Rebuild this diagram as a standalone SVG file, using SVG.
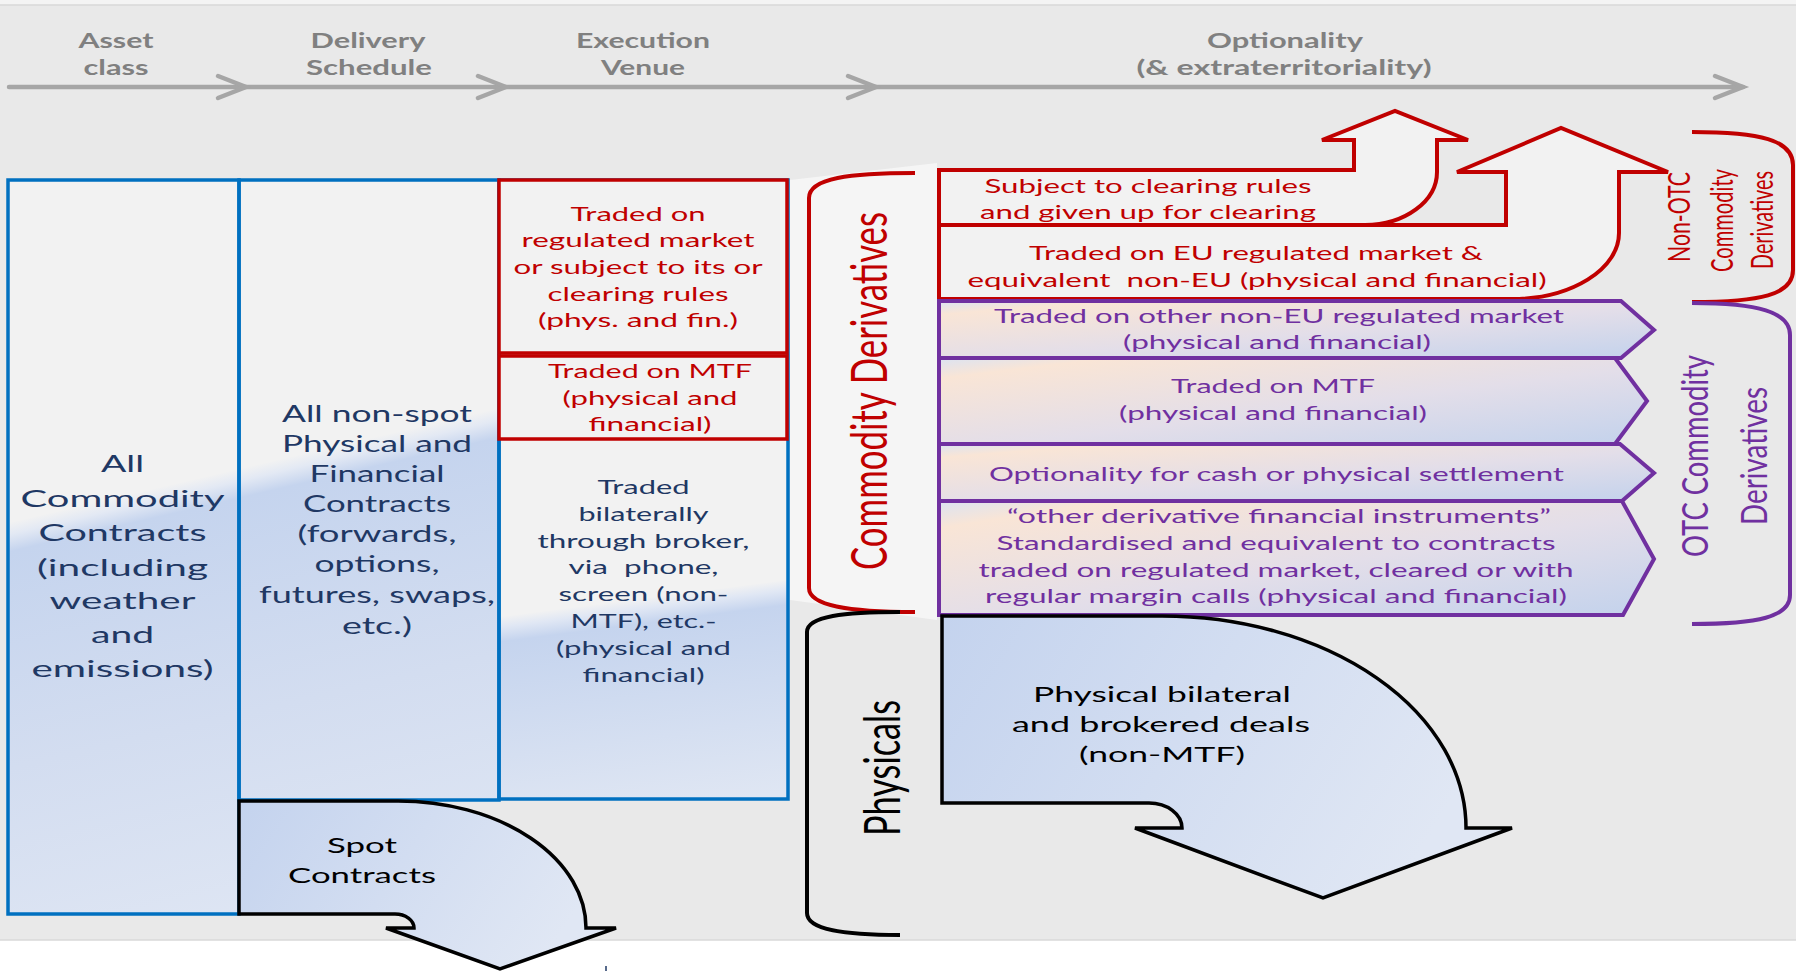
<svg xmlns="http://www.w3.org/2000/svg" width="1796" height="971" viewBox="0 0 1796 971">
<defs>
<style>
text{font-family:Lato,"Liberation Sans",sans-serif}
.hdr{font-weight:bold;font-size:20px;fill:#808080;text-anchor:middle}
.vd{font-family:"DejaVu Sans",Verdana,sans-serif;text-anchor:middle}
.cal{text-anchor:middle}
.navy{fill:#1f3864}
.red{fill:#c00000}
.pur{fill:#7030a0}
.blk{fill:#000}
.box{fill:#f2f2f2}
.bb{fill:none;stroke:#0070c0;stroke-width:3.5}
.rb{fill:#f2f2f2;stroke:#c00000;stroke-width:3.5}
.ra{fill:#f2f2f2;stroke:#c00000;stroke-width:4;stroke-linejoin:miter}
.pr{fill:url(#gRow);stroke:#7030a0;stroke-width:4}
.ka{fill:url(#gArr);stroke:#000;stroke-width:3.5}
.axis{stroke:#a6a6a6;stroke-width:4.5;fill:none;stroke-linecap:round}
.brk{fill:none;stroke-width:4}
</style>
<linearGradient id="gBlue1" gradientUnits="userSpaceOnUse" x1="250" y1="466" x2="359" y2="933">
<stop offset="0" stop-color="#f2f2f2"/>
<stop offset="0.025" stop-color="#e3e9f4"/>
<stop offset="0.06" stop-color="#c5d4ee"/>
<stop offset="0.5" stop-color="#d3ddf0"/>
<stop offset="1" stop-color="#e0e7f4"/>
</linearGradient>
<linearGradient id="gBlue3" gradientUnits="userSpaceOnUse" x1="643" y1="598" x2="670" y2="807">
<stop offset="0" stop-color="#f2f2f2"/>
<stop offset="0.05" stop-color="#e0e7f4"/>
<stop offset="0.12" stop-color="#c5d4ee"/>
<stop offset="1" stop-color="#dfe6f3"/>
</linearGradient>
<linearGradient id="gArr" x1="0" y1="0" x2="1" y2="0.3">
<stop offset="0" stop-color="#c4d3ee"/>
<stop offset="1" stop-color="#e0e7f4"/>
</linearGradient>
<linearGradient id="gRow" x1="0" y1="0" x2="1" y2="1">
<stop offset="0" stop-color="#dbe3f2"/>
<stop offset="0.12" stop-color="#f9e5d6"/>
<stop offset="0.55" stop-color="#e3dee9"/>
<stop offset="1" stop-color="#c3d2ec"/>
</linearGradient>
</defs>

<g id="background">
<rect x="0" y="0" width="1796" height="971" fill="#ffffff"/>
<rect x="0" y="0" width="1796" height="5" fill="#f4f4f4"/>
<rect x="0" y="5" width="1796" height="935" fill="#e9e9e9"/>
<line x1="0" y1="5" x2="1796" y2="5" stroke="#d8d8d8" stroke-width="1.5"/>
<line x1="0" y1="940" x2="1796" y2="940" stroke="#d8d8d8" stroke-width="1.5"/>
<polygon points="790,180 937,163 937,620 790,600" fill="#f5f5f5"/>
<line x1="606" y1="966" x2="606" y2="971" stroke="#1f3864" stroke-width="1.5"/>
</g>

<g id="header">
<line class="axis" x1="9" y1="87" x2="1743" y2="87"/>
<polyline class="axis" points="218,76 246,87 218,98"/>
<polyline class="axis" points="478,76 506,87 478,98"/>
<polyline class="axis" points="848,76 876,87 848,98"/>
<polyline class="axis" points="1715,76 1743,87 1715,98"/>
<text class="hdr" x="116" y="48" textLength="75" lengthAdjust="spacingAndGlyphs">Asset</text>
<text class="hdr" x="116" y="75" textLength="65" lengthAdjust="spacingAndGlyphs">class</text>
<text class="hdr" x="368" y="48" textLength="115" lengthAdjust="spacingAndGlyphs">Delivery</text>
<text class="hdr" x="369" y="75" textLength="126" lengthAdjust="spacingAndGlyphs">Schedule</text>
<text class="hdr" x="643" y="48" textLength="134" lengthAdjust="spacingAndGlyphs">Execution</text>
<text class="hdr" x="643" y="75" textLength="84" lengthAdjust="spacingAndGlyphs">Venue</text>
<text class="hdr" x="1285" y="48" textLength="156" lengthAdjust="spacingAndGlyphs">Optionality</text>
<text class="hdr" x="1284" y="75" textLength="295" lengthAdjust="spacingAndGlyphs">(&amp; extraterritoriality)</text>
</g>

<g id="shading">
<rect class="box" x="8" y="180" width="491" height="620"/>
<rect class="box" x="8" y="800" width="231" height="114"/>
<rect class="box" x="499" y="440" width="289" height="359"/>
<polygon points="8,523 499,408 499,800 239,800 239,914 8,914" fill="url(#gBlue1)"/>
<polygon points="499,617 788,580 788,799 499,799" fill="url(#gBlue3)"/>
</g>

<g id="all-commodity">
<rect class="bb" x="8" y="180" width="231" height="734"/>
<g class="vd navy" font-size="24">
<text x="122.5" y="472" textLength="43" lengthAdjust="spacingAndGlyphs">All</text>
<text x="122.5" y="506.5" textLength="204" lengthAdjust="spacingAndGlyphs">Commodity</text>
<text x="122.5" y="541" textLength="168" lengthAdjust="spacingAndGlyphs">Contracts</text>
<text x="122.5" y="576" textLength="171" lengthAdjust="spacingAndGlyphs">(including</text>
<text x="122.5" y="609" textLength="146" lengthAdjust="spacingAndGlyphs">weather</text>
<text x="122.5" y="643" textLength="63" lengthAdjust="spacingAndGlyphs">and</text>
<text x="122.5" y="677" textLength="182" lengthAdjust="spacingAndGlyphs">emissions)</text>
</g>
</g>

<g id="non-spot">
<rect class="bb" x="239" y="180" width="260" height="620"/>
<g class="vd navy" font-size="23">
<text x="377" y="422" textLength="190" lengthAdjust="spacingAndGlyphs">All non-spot</text>
<text x="377" y="452" textLength="190" lengthAdjust="spacingAndGlyphs">Physical and</text>
<text x="377" y="482" textLength="135" lengthAdjust="spacingAndGlyphs">Financial</text>
<text x="377" y="512" textLength="148" lengthAdjust="spacingAndGlyphs">Contracts</text>
<text x="377" y="542" textLength="159" lengthAdjust="spacingAndGlyphs">(forwards,</text>
<text x="377" y="572" textLength="125" lengthAdjust="spacingAndGlyphs">options,</text>
<text x="377" y="603" textLength="236" lengthAdjust="spacingAndGlyphs">futures, swaps,</text>
<text x="377" y="634" textLength="70" lengthAdjust="spacingAndGlyphs">etc.)</text>
</g>
</g>

<g id="bilateral-venue">
<rect class="bb" x="499" y="180" width="289" height="619"/>
<g class="vd navy" font-size="19">
<text x="643.5" y="494" textLength="92" lengthAdjust="spacingAndGlyphs">Traded</text>
<text x="643.5" y="521" textLength="130" lengthAdjust="spacingAndGlyphs">bilaterally</text>
<text x="643.5" y="547.6" textLength="212" lengthAdjust="spacingAndGlyphs">through broker,</text>
<text x="643.5" y="574.4" textLength="150" lengthAdjust="spacingAndGlyphs" xml:space="preserve">via  phone,</text>
<text x="643.5" y="601.2" textLength="170" lengthAdjust="spacingAndGlyphs">screen (non-</text>
<text x="643.5" y="628" textLength="146" lengthAdjust="spacingAndGlyphs">MTF), etc.-</text>
<text x="643.5" y="654.8" textLength="175" lengthAdjust="spacingAndGlyphs">(physical and</text>
<text x="643.5" y="681.6" textLength="122" lengthAdjust="spacingAndGlyphs">financial)</text>
</g>
</g>

<g id="regulated-market">
<rect class="rb" x="499" y="180" width="288" height="173"/>
<g class="vd red" font-size="20">
<text x="638" y="221" textLength="135" lengthAdjust="spacingAndGlyphs">Traded on</text>
<text x="638" y="247" textLength="233" lengthAdjust="spacingAndGlyphs">regulated market</text>
<text x="638" y="274" textLength="249" lengthAdjust="spacingAndGlyphs">or subject to its or</text>
<text x="638" y="301" textLength="181" lengthAdjust="spacingAndGlyphs">clearing rules</text>
<text x="638" y="327" textLength="200" lengthAdjust="spacingAndGlyphs">(phys. and fin.)</text>
</g>
</g>

<g id="mtf-venue">
<rect class="rb" x="499" y="356" width="288" height="83"/>
<g class="vd red" font-size="19.5">
<text x="650" y="378" textLength="204" lengthAdjust="spacingAndGlyphs">Traded on MTF</text>
<text x="650" y="405" textLength="175" lengthAdjust="spacingAndGlyphs">(physical and</text>
<text x="650" y="431" textLength="123" lengthAdjust="spacingAndGlyphs">financial)</text>
</g>
</g>

<g id="spot-contracts">
<path class="ka" d="M239,801 L398,801 A188,127 0 0 1 586,928 L616,928 L500,969 L386,928 L414,928 A19,14 0 0 0 395,914 L239,914 Z"/>
<text class="cal blk" font-size="22" x="362" y="853" textLength="70" lengthAdjust="spacingAndGlyphs">Spot</text>
<text class="cal blk" font-size="22" x="362" y="883" textLength="148" lengthAdjust="spacingAndGlyphs">Contracts</text>
</g>

<g id="eu-regulated">
<path class="ra" d="M939,225 L1506,225 L1506,172 L1457,172 L1561,128 L1668,172 L1619,172 L1619,233 A107,66 0 0 1 1512,299 L939,299 Z"/>
<text class="cal red" font-size="19.5" x="1256" y="260" textLength="454" lengthAdjust="spacingAndGlyphs">Traded on EU regulated market &amp;</text>
<text class="cal red" font-size="19.5" x="1257" y="287" textLength="579" lengthAdjust="spacingAndGlyphs" xml:space="preserve">equivalent  non-EU (physical and financial)</text>
</g>

<g id="clearing">
<path class="ra" d="M939,170 L1354,170 L1354,140 L1322,140 L1395,111 L1468,140 L1437,140 L1437,172 A72,53 0 0 1 1365,225 L939,225 Z"/>
<text class="cal red" font-size="19.5" x="1148" y="193" textLength="327" lengthAdjust="spacingAndGlyphs">Subject to clearing rules</text>
<text class="cal red" font-size="19.5" x="1148" y="219" textLength="336" lengthAdjust="spacingAndGlyphs">and given up for clearing</text>
</g>

<g id="other-non-eu">
<path class="pr" d="M939,301 L1621,301 L1654,330 L1621,358 L939,358 Z"/>
<text class="cal pur" font-size="19.5" x="1279" y="323" textLength="570" lengthAdjust="spacingAndGlyphs">Traded on other non-EU regulated market</text>
<text class="cal pur" font-size="19.5" x="1277" y="349" textLength="308" lengthAdjust="spacingAndGlyphs">(physical and financial)</text>
</g>

<g id="otc-mtf">
<path class="pr" d="M939,358 L1615,358 L1647,401 L1615,444 L939,444 Z"/>
<text class="cal pur" font-size="19.5" x="1273" y="393" textLength="204" lengthAdjust="spacingAndGlyphs">Traded on MTF</text>
<text class="cal pur" font-size="19.5" x="1273" y="420" textLength="308" lengthAdjust="spacingAndGlyphs">(physical and financial)</text>
</g>

<g id="optionality">
<path class="pr" d="M939,444 L1620,444 L1654,473 L1622,501 L939,501 Z"/>
<text class="cal pur" font-size="19.5" x="1276.5" y="481" textLength="575" lengthAdjust="spacingAndGlyphs">Optionality for cash or physical settlement</text>
</g>

<g id="other-derivatives">
<path class="pr" d="M939,501 L1622,501 L1654,559 L1623,615 L939,615 Z"/>
<text class="cal pur" font-size="19.5" x="1279" y="523" textLength="544" lengthAdjust="spacingAndGlyphs">“other derivative financial instruments”</text>
<text class="cal pur" font-size="19.5" x="1276" y="550" textLength="559" lengthAdjust="spacingAndGlyphs">Standardised and equivalent to contracts</text>
<text class="cal pur" font-size="19.5" x="1276" y="577" textLength="595" lengthAdjust="spacingAndGlyphs">traded on regulated market, cleared or with</text>
<text class="cal pur" font-size="19.5" x="1276" y="603" textLength="582" lengthAdjust="spacingAndGlyphs">regular margin calls (physical and financial)</text>
</g>

<g id="physical-deals">
<path class="ka" d="M942,616 L1162,616 A304,212 0 0 1 1466,828 L1512,828 L1323,898 L1135,828 L1182,828 A33,25 0 0 0 1149,803 L942,803 Z"/>
<text class="cal blk" font-size="22" x="1162" y="702" textLength="258" lengthAdjust="spacingAndGlyphs">Physical bilateral</text>
<text class="cal blk" font-size="22" x="1161" y="732" textLength="298" lengthAdjust="spacingAndGlyphs">and brokered deals</text>
<text class="cal blk" font-size="22" x="1162" y="762" textLength="166" lengthAdjust="spacingAndGlyphs">(non-MTF)</text>
</g>

<g id="brace-commodity-derivatives">
<path class="brk" stroke="#c00000" d="M915,173 C850,173 809,178 809,198 L809,588 C809,606 850,612 915,612"/>
<text class="cal red" font-size="50" transform="translate(887,391) rotate(-90)" textLength="358" lengthAdjust="spacingAndGlyphs">Commodity Derivatives</text>
</g>

<g id="brace-physicals">
<path class="brk" stroke="#000" d="M900,612 C845,612 807,616 807,632 L807,913 C807,930 845,935 900,935"/>
<text class="cal blk" font-size="50" transform="translate(900,768) rotate(-90)" textLength="136" lengthAdjust="spacingAndGlyphs">Physicals</text>
</g>

<g id="brace-non-otc">
<path class="brk" stroke="#c00000" d="M1692,132 C1760,132 1793,140 1793,165 L1793,270 C1793,295 1760,302 1692,302"/>
<text class="cal red" font-size="30" transform="translate(1690,217) rotate(-90)" textLength="90" lengthAdjust="spacingAndGlyphs">Non-OTC</text>
<text class="cal red" font-size="30" transform="translate(1733,220.5) rotate(-90)" textLength="103" lengthAdjust="spacingAndGlyphs">Commodity</text>
<text class="cal red" font-size="30" transform="translate(1773,220) rotate(-90)" textLength="98" lengthAdjust="spacingAndGlyphs">Derivatives</text>
</g>

<g id="brace-otc">
<path class="brk" stroke="#7030a0" d="M1692,303 C1758,303 1790,312 1790,335 L1790,595 C1790,617 1758,624 1692,624"/>
<text class="cal pur" font-size="37" transform="translate(1708,456) rotate(-90)" textLength="202" lengthAdjust="spacingAndGlyphs">OTC Commodity</text>
<text class="cal pur" font-size="37" transform="translate(1767,456) rotate(-90)" textLength="138" lengthAdjust="spacingAndGlyphs">Derivatives</text>
</g>
</svg>
